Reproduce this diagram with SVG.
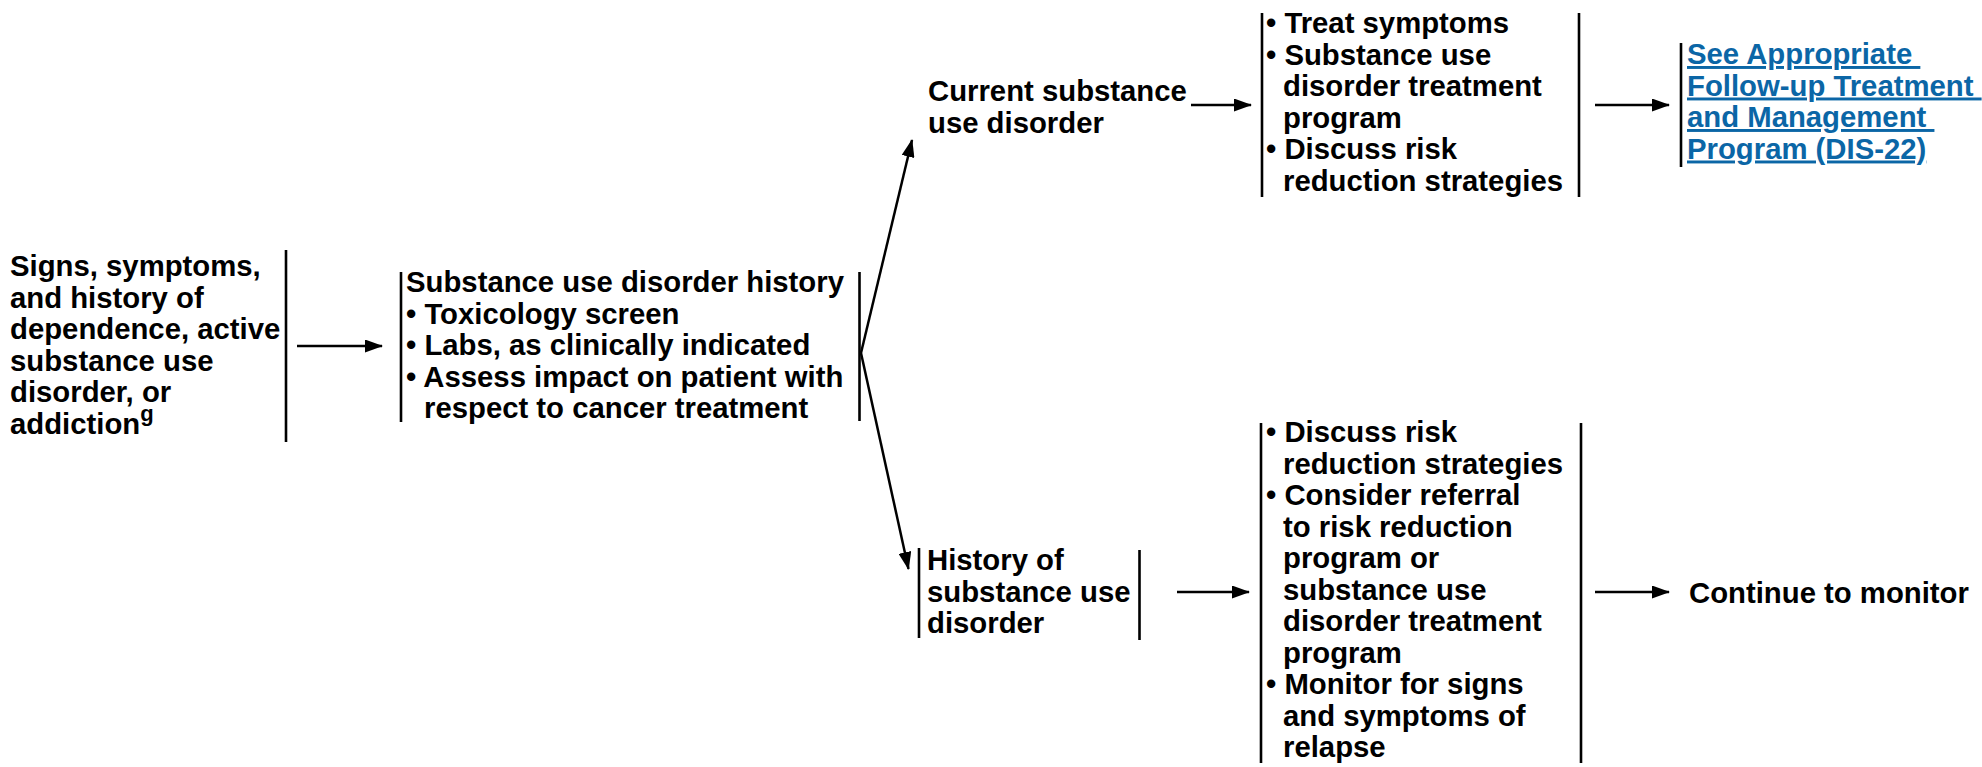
<svg xmlns="http://www.w3.org/2000/svg" width="1982" height="767" viewBox="0 0 1982 767">
<style>
  text { font-family: "Liberation Sans", Arial, sans-serif; font-weight: bold; font-size: 29.3px; fill: #000; }
  .link { fill: #0b66a6; text-decoration: underline; }
  .sup { font-size: 22px; }
  .bar { stroke: #000; stroke-width: 2.6; fill: none; }
  .conn { stroke: #000; stroke-width: 2.5; fill: none; marker-end: url(#ah); }
</style>
<defs>
  <marker id="ah" markerUnits="userSpaceOnUse" markerWidth="18" markerHeight="13" refX="17" refY="6.5" orient="auto">
    <path d="M0,0 L18,6.5 L0,13 z" fill="#000"/>
  </marker>
</defs>
<rect width="1982" height="767" fill="#fff"/>

<g id="node-signs">
  <text x="10" y="276">Signs, symptoms,</text>
  <text x="10" y="307.5">and history of</text>
  <text x="10" y="339">dependence, active</text>
  <text x="10" y="370.5">substance use</text>
  <text x="10" y="402">disorder, or</text>
  <text x="10" y="433.5">addiction<tspan class="sup" dy="-13">g</tspan></text>
  <line class="bar" x1="286" y1="250" x2="286" y2="442"/>
</g>

<g id="node-history-workup">
  <line class="bar" x1="401" y1="272" x2="401" y2="422"/>
  <text x="406" y="292">Substance use disorder history</text>
  <text x="406" y="323.5">• Toxicology screen</text>
  <text x="406" y="355">• Labs, as clinically indicated</text>
  <text x="406" y="386.5">• Assess impact on patient with</text>
  <text x="424" y="418">respect to cancer treatment</text>
  <line class="bar" x1="859.5" y1="272" x2="859.5" y2="421"/>
</g>

<g id="node-current">
  <text x="928" y="101">Current substance</text>
  <text x="928" y="132.5">use disorder</text>
</g>

<g id="node-current-actions">
  <line class="bar" x1="1262" y1="13" x2="1262" y2="197"/>
  <text x="1266" y="33">• Treat symptoms</text>
  <text x="1266" y="64.5">• Substance use</text>
  <text x="1283" y="96">disorder treatment</text>
  <text x="1283" y="127.5">program</text>
  <text x="1266" y="159">• Discuss risk</text>
  <text x="1283" y="190.5">reduction strategies</text>
  <line class="bar" x1="1579" y1="13" x2="1579" y2="197"/>
</g>

<g id="node-link">
  <line class="bar" x1="1681" y1="43" x2="1681" y2="167"/>
  <text class="link" xml:space="preserve" x="1687" y="64">See Appropriate </text>
  <text class="link" xml:space="preserve" x="1687" y="95.5">Follow-up Treatment </text>
  <text class="link" xml:space="preserve" x="1687" y="127">and Management </text>
  <text class="link" x="1687" y="158.5">Program (DIS-22)</text>
</g>

<g id="node-history">
  <line class="bar" x1="919" y1="548" x2="919" y2="638"/>
  <text x="927" y="570">History of</text>
  <text x="927" y="601.5">substance use</text>
  <text x="927" y="633">disorder</text>
  <line class="bar" x1="1139.5" y1="550" x2="1139.5" y2="640"/>
</g>

<g id="node-history-actions">
  <line class="bar" x1="1261" y1="423" x2="1261" y2="763"/>
  <text x="1266" y="442">• Discuss risk</text>
  <text x="1283" y="473.5">reduction strategies</text>
  <text x="1266" y="505">• Consider referral</text>
  <text x="1283" y="536.5">to risk reduction</text>
  <text x="1283" y="568">program or</text>
  <text x="1283" y="599.5">substance use</text>
  <text x="1283" y="631">disorder treatment</text>
  <text x="1283" y="662.5">program</text>
  <text x="1266" y="694">• Monitor for signs</text>
  <text x="1283" y="725.5">and symptoms of</text>
  <text x="1283" y="757">relapse</text>
  <line class="bar" x1="1581" y1="423" x2="1581" y2="763"/>
</g>

<g id="node-monitor">
  <text x="1689" y="602.5">Continue to monitor</text>
</g>

<g id="connectors">
  <line class="conn" x1="297" y1="346" x2="382" y2="346"/>
  <line class="conn" x1="861" y1="353" x2="912" y2="140"/>
  <line class="conn" x1="861" y1="353" x2="908.5" y2="569"/>
  <line class="conn" x1="1191" y1="105" x2="1251" y2="105"/>
  <line class="conn" x1="1595" y1="105" x2="1669" y2="105"/>
  <line class="conn" x1="1177" y1="592" x2="1249" y2="592"/>
  <line class="conn" x1="1595" y1="592" x2="1669" y2="592"/>
</g>
</svg>
